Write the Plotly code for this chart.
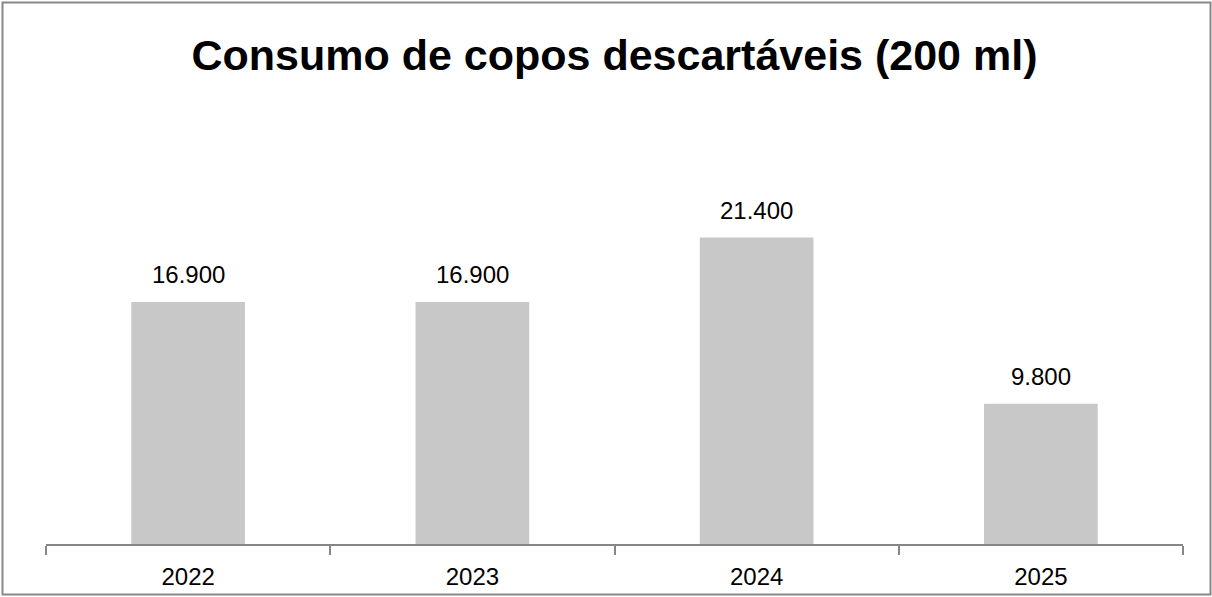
import plotly.graph_objects as go

years = ["2022", "2023", "2024", "2025"]
consumo = [16900, 16900, 21400, 9800]
title_text = "Consumo de copos descartáveis (200 ml)"

W, H = 1212, 597
ml, mr, mt, mb = 46, 29, 186, 53
pw, ph = W - ml - mr, H - mt - mb
FONT = "Liberation Sans"

def fmt(v):
    return f"{v:,}".replace(",", ".")

fig = go.Figure(go.Bar(x=years, y=consumo, marker=dict(color="#C8C8C8", line=dict(width=0)),
                       hoverinfo="skip"))

for i, v in enumerate(consumo):
    fig.add_annotation(x=i, y=v, text=fmt(v), showarrow=False, yanchor="bottom",
                       yshift=12, font=dict(family=FONT, size=24, color="#000000"))

# outer chart border
fig.add_shape(type="rect", xref="paper", yref="paper",
              x0=(2.5 - ml) / pw, x1=(1210.5 - ml) / pw,
              y0=(H - mb - 594.5) / ph, y1=(H - mb - 2.5) / ph,
              line=dict(color="#888888", width=2), fillcolor="rgba(0,0,0,0)", layer="below")

fig.update_layout(
    width=W, height=H,
    margin=dict(l=ml, r=mr, t=mt, b=mb, pad=0),
    paper_bgcolor="white", plot_bgcolor="white",
    bargap=0.6, showlegend=False,
    title=dict(text=title_text, x=0.5, xanchor="center", xref="paper",
               y=1 - 55 / H, yref="container", yanchor="middle",
               font=dict(family=FONT, size=43, color="#000000", weight="bold")),
    xaxis=dict(type="category", range=[-0.5, 3.5], autorange=False, automargin=False,
               showline=True, linecolor="#868686", linewidth=1.5,
               ticks="outside", tickson="boundaries", ticklen=9, tickcolor="#868686",
               tickwidth=1.5, showgrid=False, zeroline=False, tickangle=0,
               ticklabelstandoff=10,
               tickfont=dict(family=FONT, size=24, color="#000000")),
    yaxis=dict(range=[0, 25000], autorange=False, automargin=False, visible=False,
               showgrid=False, zeroline=False),
)

fig.write_html("out.html", config={"displayModeBar": False},
               post_script="document.body.style.margin='0';")
